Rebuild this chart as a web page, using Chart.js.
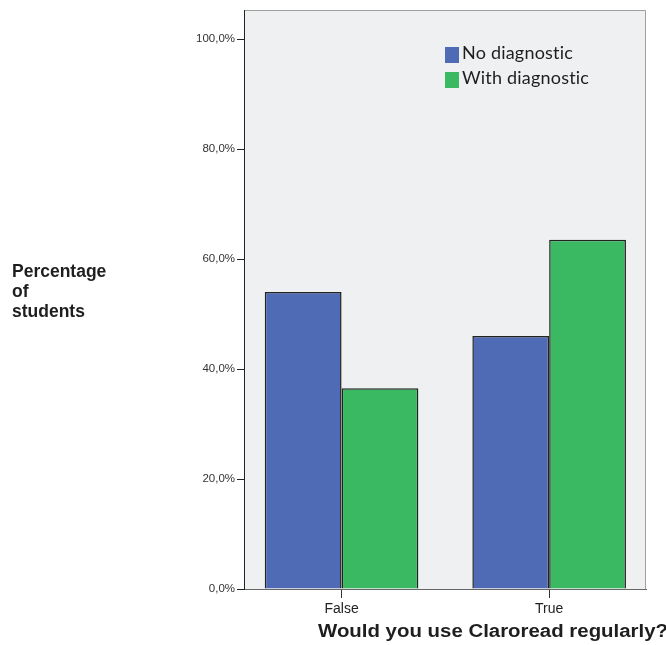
<!DOCTYPE html>
<html>
<head>
<meta charset="utf-8">
<script src="https://cdn.jsdelivr.net/npm/chart.js@4"></script>
<style>
html, body { margin:0; padding:0; background:#fff; }
#wrap { position:relative; width:666px; height:645px; }
</style>
</head>
<body>
<div id="wrap"><canvas id="c"></canvas></div>
<script>
const categories = ['False', 'True'];
const seriesNames = ['No diagnostic', 'With diagnostic'];
const noDiagnostic = [54.0, 46.0];
const withDiagnostic = [36.5, 63.5];
const yTicks = [0, 20, 40, 60, 80, 100];
const yTitle = ['Percentage', 'of', 'students'];
const xTitle = 'Would you use Claroread regularly?';

const colors = ['#4f6bb5', '#3ab862'];
const pts = v => v.map((y, x) => ({x, y}));

const decor = {
	id: 'decor',
	beforeDraw: ch => {
		const {ctx, chartArea: a} = ch;
		ctx.save();
		ctx.fillStyle = '#eff0f2';
		ctx.fillRect(a.left, a.top, a.width, a.height);
		ctx.strokeStyle = '#a0a0a0';
		ctx.lineWidth = 1;
		ctx.beginPath();
		ctx.moveTo(a.left, a.top + .5);
		ctx.lineTo(a.right - .5, a.top + .5);
		ctx.lineTo(a.right - .5, a.bottom);
		ctx.stroke();
		ctx.restore();
	},
	afterDraw: ch => {
		const {ctx, chartArea: a} = ch;
		ctx.save();
		// legend, inside the plot, top right
		ctx.font = '18px Lato';
		ctx.letterSpacing = '0.2px';
		ctx.textBaseline = 'alphabetic';
		ch.data.datasets.forEach((d, i) => {
			const y = a.top + 37 + i * 25;
			ctx.fillStyle = d.backgroundColor;
			ctx.fillRect(a.left + 201, y, 14, 16);
			ctx.fillStyle = '#1e1e1e';
			ctx.fillText(d.label, a.left + 218, y + 12);
		});
		ctx.letterSpacing = '0px';
		// y title, horizontal at far left
		ctx.fillStyle = '#1e1e1e';
		ctx.font = 'bold 17.5px "Liberation Sans", Arial';
		yTitle.forEach((t, i) => ctx.fillText(t, 12, 277 + i * 20));
		// x title, wide
		ctx.font = 'bold 18px "Liberation Sans", Arial';
		const w = ctx.measureText(xTitle).width;
		ctx.translate(318, 636.5);
		ctx.scale(350 / w, 1);
		ctx.fillText(xTitle, 0, 0);
		ctx.restore();
	}
};

new Chart(document.getElementById('c'), {
	type: 'bar',
	data: {
		datasets: [
			{label: seriesNames[0], data: pts(noDiagnostic), backgroundColor: colors[0], borderColor: '#222', borderWidth: 1.5},
			{label: seriesNames[1], data: pts(withDiagnostic), backgroundColor: colors[1], borderColor: '#222', borderWidth: 1.5},
		]
	},
	options: {
		responsive: true,
		maintainAspectRatio: false,
		animation: false,
		layout: {padding: {top: 10, right: 20, left: 0, bottom: 0}},
		categoryPercentage: 0.74,
		barPercentage: 1,
		plugins: {legend: {display: false}, tooltip: {enabled: false}},
		scales: {
			x: {
				type: 'linear',
				offset: false,
				min: -0.47,
				max: 1.4665,
				afterBuildTicks: s => { s.ticks = categories.map((c, i) => ({value: i})) },
				afterFit: s => { s.height = 56 },
				ticks: {
					callback: v => categories[v],
					color: '#222',
					font: {family: '"Liberation Sans", Arial', size: 14},
					padding: 3,
					maxRotation: 0,
				},
				grid: {offset: false, drawOnChartArea: false, drawTicks: true, tickLength: 9, tickColor: '#333'},
				border: {display: true, color: '#666', width: 1},
			},
			y: {
				min: 0,
				max: 105.3,
				afterBuildTicks: s => { s.ticks = yTicks.map(v => ({value: v})) },
				afterFit: s => { s.width = 244 },
				ticks: {
					callback: v => v.toFixed(1).replace('.', ',') + '%',
					color: '#333',
					font: {family: '"Liberation Sans", Arial', size: 11.5},
					padding: 2,
				},
				grid: {drawOnChartArea: false, drawTicks: true, tickLength: 7, tickColor: '#222'},
				border: {display: true, color: '#222', width: 1},
			},
		},
	},
	plugins: [decor],
});
</script>
</body>
</html>
